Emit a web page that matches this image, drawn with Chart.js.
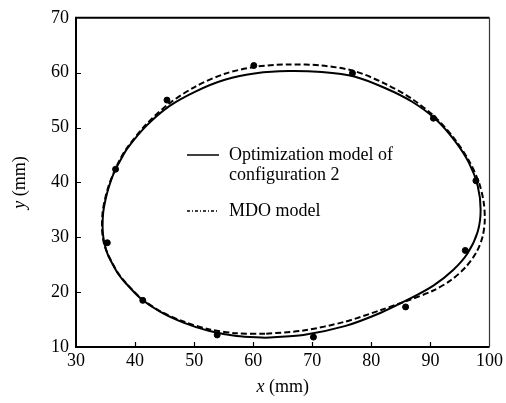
<!DOCTYPE html>
<html>
<head>
<meta charset="utf-8">
<script src="https://cdn.jsdelivr.net/npm/chart.js@4/dist/chart.umd.min.js"></script>
<style>
html, body { margin: 0; padding: 0; background: #fff; }
#wrap { width: 506px; height: 403px; }
</style>
</head>
<body>
<div id="wrap"><canvas id="chart" width="506" height="403"></canvas></div>
<script>
// Optimization model of configuration 2 (solid), loop starts at the bottom
const optX = [62.0, 57.2, 52.6, 48.3, 44.3, 40.9, 38.2, 37.1, 36.2, 35.4, 34.9, 34.6, 34.5, 34.6, 35.0, 35.6, 36.4, 37.5, 38.7, 41.9, 45.8, 50.3, 55.2, 60.5, 66.0, 71.6, 77.1, 82.3, 86.9, 90.9, 94.1, 96.5, 98.0, 98.5, 98.0, 96.3, 93.8, 90.5, 86.5, 81.5, 75.5, 68.5, 62.0];
const optY = [11.7, 12.0, 12.9, 14.4, 16.4, 18.9, 21.9, 23.4, 25.1, 26.8, 28.5, 30.2, 32.0, 34.5, 36.9, 39.3, 41.7, 44.0, 46.2, 50.3, 53.9, 56.6, 58.7, 59.9, 60.3, 60.1, 59.3, 57.2, 54.7, 51.5, 47.6, 43.6, 39.4, 35.0, 31.0, 27.1, 24.0, 21.2, 18.8, 16.2, 13.8, 12.2, 11.7];
// MDO model (dashed)
const mdoX = [62.0, 57.2, 52.6, 48.3, 44.3, 40.9, 38.2, 37.1, 36.2, 35.4, 34.8, 34.5, 34.4, 34.5, 34.9, 35.5, 36.4, 37.4, 38.7, 41.9, 45.8, 50.3, 55.2, 60.5, 66.0, 71.6, 77.1, 82.3, 86.9, 90.9, 94.1, 96.5, 98.2, 99.0, 99.2, 98.8, 97.8, 96.0, 93.5, 90.5, 86.5, 81.5, 75.5, 68.5, 62.0];
const mdoY = [12.4, 12.5, 13.2, 14.6, 16.5, 19.0, 22.0, 23.5, 25.2, 26.9, 28.6, 30.3, 32.0, 34.5, 36.9, 39.3, 41.8, 44.1, 46.4, 50.6, 54.4, 57.5, 59.8, 61.1, 61.5, 61.3, 60.3, 58.0, 55.2, 51.8, 47.9, 44.0, 40.0, 36.5, 33.0, 30.0, 27.3, 24.6, 22.2, 20.3, 18.6, 16.7, 14.6, 13.0, 12.4];
// measured points
const testX = [60.1, 45.4, 36.7, 35.3, 41.3, 53.9, 70.2, 85.8, 95.9, 97.7, 90.5, 76.8];
const testY = [61.3, 55.0, 42.4, 29.0, 18.5, 12.2, 11.8, 17.3, 27.6, 40.3, 51.7, 59.9];

const xTicks = [30, 40, 50, 60, 70, 80, 90, 100];
const yTicks = [10, 20, 30, 40, 50, 60, 70];
const legendItems = [
  { lines: ["Optimization model of", "configuration 2"], dash: [] },
  { lines: ["MDO model"], dash: [3, 2, 1, 2] },
];

const serif = '"Liberation Serif", "Times New Roman", serif';
const toPts = (xs, ys) => xs.map((x, i) => ({ x: x, y: ys[i] }));

// box, inward ticks, axis titles and legend
const framePlugin = {
  id: "frame",
  afterDraw: (chart) => {
    const { ctx, chartArea: a, scales } = chart;
    ctx.save();
    ctx.strokeStyle = "#000";
    ctx.lineWidth = 2;
    ctx.beginPath();
    ctx.moveTo(a.right, a.top);
    ctx.lineTo(a.left, a.top);
    ctx.lineTo(a.left, a.bottom);
    ctx.lineTo(a.right, a.bottom);
    ctx.stroke();
    ctx.lineWidth = 1.2;
    ctx.strokeStyle = "#333";
    ctx.beginPath();
    ctx.moveTo(a.right, a.top);
    ctx.lineTo(a.right, a.bottom);
    ctx.stroke();

    ctx.lineWidth = 1.2;
    ctx.strokeStyle = "#000";
    ctx.beginPath();
    xTicks.slice(1, -1).forEach((v) => {
      const px = Math.round(scales.x.getPixelForValue(v)) + 0.5;
      ctx.moveTo(px, a.bottom);
      ctx.lineTo(px, a.bottom - 5);
    });
    yTicks.slice(1, -1).forEach((v) => {
      const py = Math.round(scales.y.getPixelForValue(v)) + 0.5;
      ctx.moveTo(a.left, py);
      ctx.lineTo(a.left + 5, py);
    });
    ctx.stroke();

    // axis titles: italic variable + upright unit
    ctx.fillStyle = "#000";
    ctx.textBaseline = "middle";
    const drawTitle = (name) => {
      ctx.font = "italic 18px " + serif;
      const w1 = ctx.measureText(name).width;
      ctx.font = "18px " + serif;
      const w2 = ctx.measureText(" (mm)").width;
      const start = -(w1 + w2) / 2;
      ctx.font = "italic 18px " + serif;
      ctx.textAlign = "left";
      ctx.fillText(name, start, 0);
      ctx.font = "18px " + serif;
      ctx.fillText(" (mm)", start + w1, 0);
    };
    ctx.save();
    ctx.translate((a.left + a.right) / 2, 387);
    drawTitle("x");
    ctx.restore();
    ctx.save();
    ctx.translate(20, (a.top + a.bottom) / 2);
    ctx.rotate(-Math.PI / 2);
    drawTitle("y");
    ctx.restore();

    // legend
    ctx.font = "18px " + serif;
    ctx.textAlign = "left";
    let y = 155;
    legendItems.forEach((item) => {
      ctx.setLineDash(item.dash);
      ctx.lineWidth = 1.5;
      ctx.beginPath();
      ctx.moveTo(187, y);
      ctx.lineTo(219, y);
      ctx.stroke();
      ctx.setLineDash([]);
      item.lines.forEach((t, i) => ctx.fillText(t, 229, y + i * 20));
      y += item.lines.length * 20 + 16;
    });
    ctx.restore();
  },
};

new Chart(document.getElementById("chart").getContext("2d"), {
  type: "scatter",
  data: {
    datasets: [
      {
        label: "Optimization model of configuration 2",
        data: toPts(optX, optY),
        showLine: true,
        borderColor: "#000",
        borderWidth: 2,
        pointRadius: 0,
        tension: 0.3,
      },
      {
        label: "MDO model",
        data: toPts(mdoX, mdoY),
        showLine: true,
        borderColor: "#000",
        borderWidth: 2,
        borderDash: [6, 3],
        pointRadius: 0,
        tension: 0.3,
      },
      {
        label: "Points",
        data: toPts(testX, testY),
        showLine: false,
        pointRadius: 3,
        backgroundColor: "#000",
        borderColor: "#000",
      },
    ],
  },
  plugins: [framePlugin],
  options: {
    responsive: false,
    animation: false,
    layout: { padding: { top: 16, right: 15, left: 0, bottom: 0 } },
    plugins: { legend: { display: false }, tooltip: { enabled: false } },
    scales: {
      x: {
        type: "linear",
        min: 30,
        max: 100,
        afterBuildTicks: (s) => { s.ticks = xTicks.map((v) => ({ value: v })); },
        afterFit: (s) => { s.height = 56; },
        grid: { display: false, drawTicks: false },
        border: { display: false },
        ticks: { color: "#000", padding: 3, maxRotation: 0, autoSkip: false, font: { family: serif, size: 18 } },
      },
      y: {
        type: "linear",
        min: 10,
        max: 70,
        afterBuildTicks: (s) => { s.ticks = yTicks.map((v) => ({ value: v })); },
        afterFit: (s) => { s.width = 76; },
        grid: { display: false, drawTicks: false },
        border: { display: false },
        ticks: { color: "#000", padding: 7, autoSkip: false, font: { family: serif, size: 18 } },
      },
    },
  },
});
</script>
</body>
</html>
